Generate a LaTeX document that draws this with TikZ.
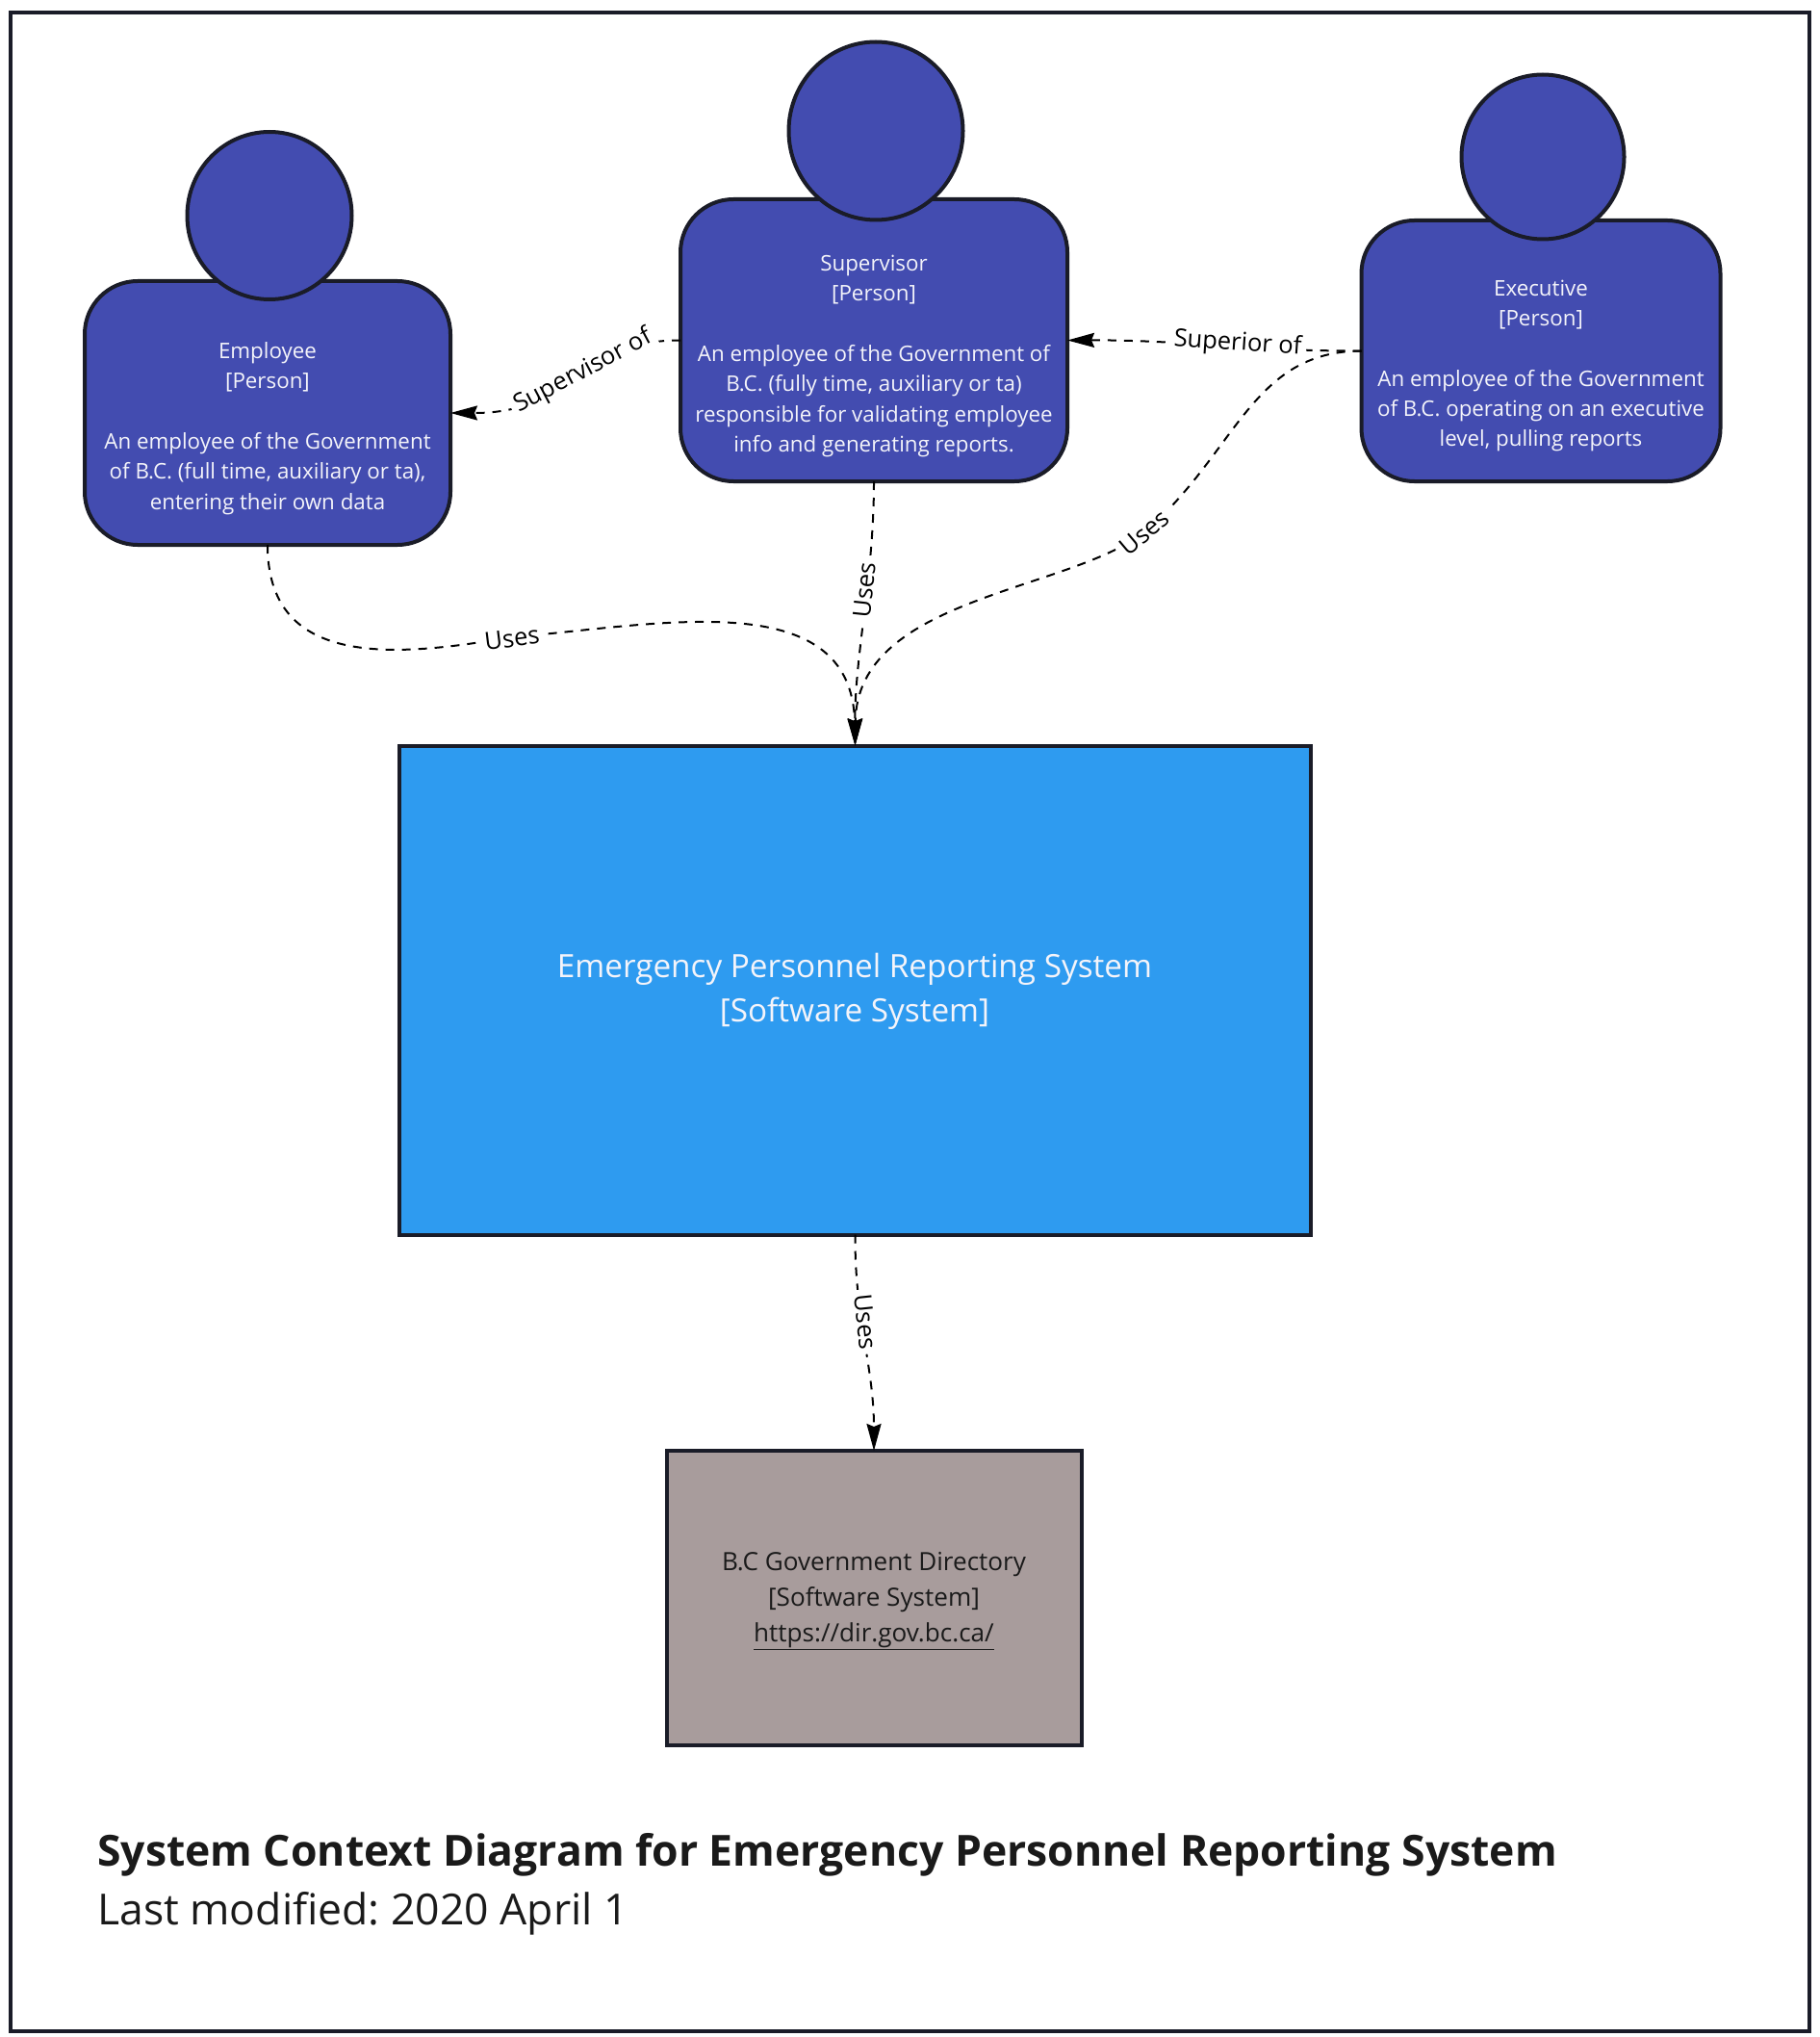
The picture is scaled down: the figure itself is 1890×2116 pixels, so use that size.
\documentclass[tikz,border=0pt]{standalone}
\usepackage{fontspec}
\setmainfont{Open Sans}
\usetikzlibrary{shapes.geometric,arrows.meta}
\definecolor{personblue}{HTML}{434CB0}
\definecolor{sysblue}{HTML}{2E9BF0}
\definecolor{dirgrey}{HTML}{A89C9C}
\definecolor{ink}{HTML}{1A1C28}
\definecolor{textink}{HTML}{1A1A1A}
\definecolor{softwhite}{HTML}{F4F4FA}
\tikzset{
  body/.style={draw=ink,line width=4pt,fill=personblue,rounded corners=55pt,inner sep=0pt,outer sep=0pt},
  head/.style={draw=ink,line width=4pt,fill=personblue,ellipse,inner sep=0pt,outer sep=0pt},
  sysbox/.style={draw=ink,line width=4pt,inner sep=0pt,outer sep=0pt},
  persontext/.style={text=softwhite,align=center,inner sep=0pt,font=\fontsize{22.35}{31.3}\selectfont},
  conn/.style={draw=black,line width=2pt,dash pattern=on 9pt off 8pt,-{Stealth[length=28pt,width=15pt,inset=3pt]}},
  connlabel/.style={fill=white,inner sep=5pt,text=black,font=\fontsize{25.5}{30}\selectfont},
}
\frenchspacing
\begin{document}
\frenchspacing
\begin{tikzpicture}[x=1pt,y=-1pt]
\useasboundingbox (0,0) rectangle (1890,2116);
\node[draw=ink,line width=3.5pt,inner sep=0pt,minimum width=1869pt,minimum height=2097pt] (frame) at (945.5,1061.5) {};
\node[body,minimum width=380pt,minimum height=274pt] (empbody) at (278,429) {};
\node[body,minimum width=402pt,minimum height=293pt] (supbody) at (908,353.5) {};
\node[body,minimum width=373pt,minimum height=271pt] (exebody) at (1601,364.5) {};
\node[sysbox,fill=sysblue,minimum width=947pt,minimum height=508pt] (system) at (888.5,1028.5) {};
\node[sysbox,fill=dirgrey,minimum width=431pt,minimum height=306pt] (directory) at (908,1660) {};
\coordinate (empmid) at (530,662);
\coordinate (exemid) at (1190,552);
\draw[conn] (supbody.west) .. controls (600,353) and (600,429) .. (empbody.east);
\draw[conn] (exebody.west) .. controls (1300,365) and (1230,353) .. (supbody.east);
\draw[conn] (empbody.south) .. controls (278,690) and (400,685) .. (empmid) .. controls (680,650) and (885,605) .. (system.north);
\draw[conn] (supbody.south) .. controls (908,600) and (888,680) .. (system.north);
\draw[conn] (exebody.west) .. controls (1300,365) and (1285,470) .. (exemid) .. controls (1110,615) and (890,620) .. (system.north);
\draw[conn] (system.south) .. controls (888,1370) and (908,1420) .. (directory.north);
\node[connlabel,rotate=28] (lsup) at (606,386) {Supervisor of};
\node[connlabel,rotate=-4] (lsuperior) at (1286,357) {Superior of};
\node[connlabel,rotate=7] (luse1) at (532,663) {Uses};
\node[connlabel,rotate=84] (luse2) at (898,613) {Uses};
\node[connlabel,rotate=40] (luse3) at (1189,553) {Uses};
\node[connlabel,rotate=-84] (luse4) at (899,1373) {Uses};
\node[head,minimum width=171pt,minimum height=174pt] (emphead) at (280,224) {};
\node[head,minimum width=181pt,minimum height=185pt] (suphead) at (910,136) {};
\node[head,minimum width=169pt,minimum height=171pt] (exehead) at (1603,163) {};
\node[persontext] (emptext) at (278,445) {Employee\\ {[Person]}\\[31.3pt] An employee of the Government\\ of B.C. (full time, auxiliary or ta),\\ entering their own data};
\node[persontext] (suptext) at (908,370) {Supervisor\\ {[Person]}\\[31.3pt] An employee of the Government of\\ B.C. (fully time, auxiliary or ta)\\ responsible for validating employee\\ info and generating reports.};
\node[persontext] (exetext) at (1601,380) {Executive\\ {[Person]}\\[31.3pt] An employee of the Government\\ of B.C. operating on an executive\\ level, pulling reports};
\node[align=center,text=softwhite,inner sep=0pt,font=\fontsize{33.3}{46}\selectfont] (systext) at (888,1030) {Emergency Personnel Reporting System\\ {[Software System]}};
\node[align=center,text=textink,inner sep=0pt,font=\fontsize{26.1}{37}\selectfont] (dirtext) at (908,1663) {B.C Government Directory\\ {[Software System]}\\ \underline{https://dir.gov.bc.ca/}};
\node[anchor=base west,text=textink,inner sep=0pt,font=\fontsize{44.5}{54}\selectfont\bfseries] (title) at (101,1938) {System Context Diagram for Emergency Personnel Reporting System};
\node[anchor=base west,text=textink,inner sep=0pt,font=\fontsize{44.5}{54}\selectfont] (modified) at (101,1999) {Last modified: 2020 April 1};
\end{tikzpicture}
\end{document}
